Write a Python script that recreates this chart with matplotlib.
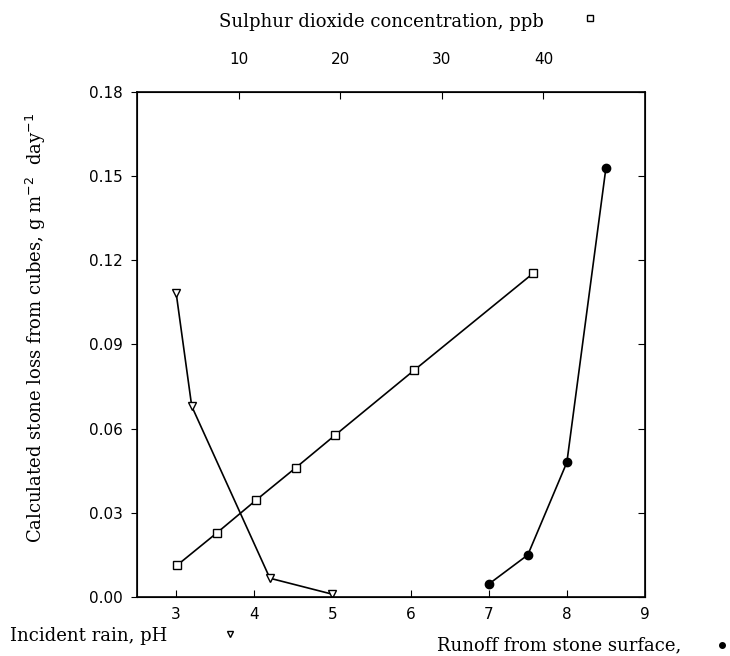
import matplotlib
matplotlib.use('Agg')
import matplotlib.pyplot as plt
from matplotlib.lines import Line2D

# incident rain, pH (bottom axis), open triangles
rain_ph = [3.0, 3.2, 4.2, 5.0]
rain_loss = [0.1085, 0.068, 0.0067, 0.001]

# runoff from stone surface, pH (bottom axis), filled circles
runoff_ph = [7.0, 7.5, 8.0, 8.5]
runoff_loss = [0.0046, 0.015, 0.048, 0.153]

# sulphur dioxide, ppb (top axis), open squares
so2_ppb = [3.97, 7.84, 11.74, 15.6, 19.5, 27.3, 39.0]
so2_loss = [0.0114, 0.0228, 0.0346, 0.046, 0.0577, 0.0809, 0.1154]

ph_ticks = [3, 4, 5, 6, 7, 8, 9]
ppb_ticks = [10, 20, 30, 40]
loss_ticks = [0.00, 0.03, 0.06, 0.09, 0.12, 0.15, 0.18]

plt.rcParams['font.family'] = ['DejaVu Sans']
lab_font = dict(family='DejaVu Serif', fontsize=13)

fig = plt.figure(figsize=(7.3, 6.56), dpi=100)
ax = fig.add_axes([0.1877, 0.0899, 0.6959, 0.7699])
ax.plot(rain_ph, rain_loss, '-', color='black', lw=1.2, marker='v',
        mfc='white', mec='black', ms=6, mew=1.0)
ax.plot(runoff_ph, runoff_loss, '-', color='black', lw=1.2, marker='o',
        mfc='black', mec='black', ms=6)
ax.set_xlim(2.5, 9.0)
ax.set_ylim(0, 0.18)
ax.set_xticks(ph_ticks)
ax.set_yticks(loss_ticks)
ax.set_yticklabels(['%.2f' % v for v in loss_ticks])
ax.tick_params(axis='x', direction='in', length=5, labelsize=11, pad=7)
ax.tick_params(axis='y', direction='out', length=4, labelsize=11, pad=6)
ax.tick_params(axis='y', which='both', right=True, labelright=False)
for sp in ax.spines.values():
    sp.set_linewidth(1.2)

top = ax.twiny()
top.plot(so2_ppb, so2_loss, '-', color='black', lw=1.2, marker='s',
         mfc='white', mec='black', ms=5.5, mew=1.0)
top.set_xlim(0, 50)
top.set_xticks(ppb_ticks)
top.tick_params(axis='x', direction='in', length=5, labelsize=11, pad=18)
# right ticks point inward
for t in ax.yaxis.get_major_ticks():
    t.tick2line.set_marker(matplotlib.lines.TICKLEFT)
    t.tick2line.set_markersize(5)

fig.text(0.049, 0.50,
         'Calculated stone loss from cubes, g m$^{-2}$  day$^{-1}$',
         rotation=90, ha='center', va='center', **lab_font)
fig.text(0.523, 0.966, 'Sulphur dioxide concentration, ppb', ha='center',
         va='center', **lab_font)
fig.text(0.014, 0.031, 'Incident rain, pH', ha='left', va='center', **lab_font)
fig.text(0.598, 0.016, 'Runoff from stone surface,', ha='left', va='center',
         **lab_font)
fig.add_artist(Line2D([0.808], [0.972], transform=fig.transFigure, marker='s',
                      ms=5, mfc='white', mec='black', ls='none'))
fig.add_artist(Line2D([0.315], [0.034], transform=fig.transFigure, marker='v',
                      ms=5, mfc='white', mec='black', ls='none'))
fig.add_artist(Line2D([0.989], [0.017], transform=fig.transFigure, marker='o',
                      ms=4, mfc='black', mec='black', ls='none'))

fig.savefig('out.png', dpi=100)
